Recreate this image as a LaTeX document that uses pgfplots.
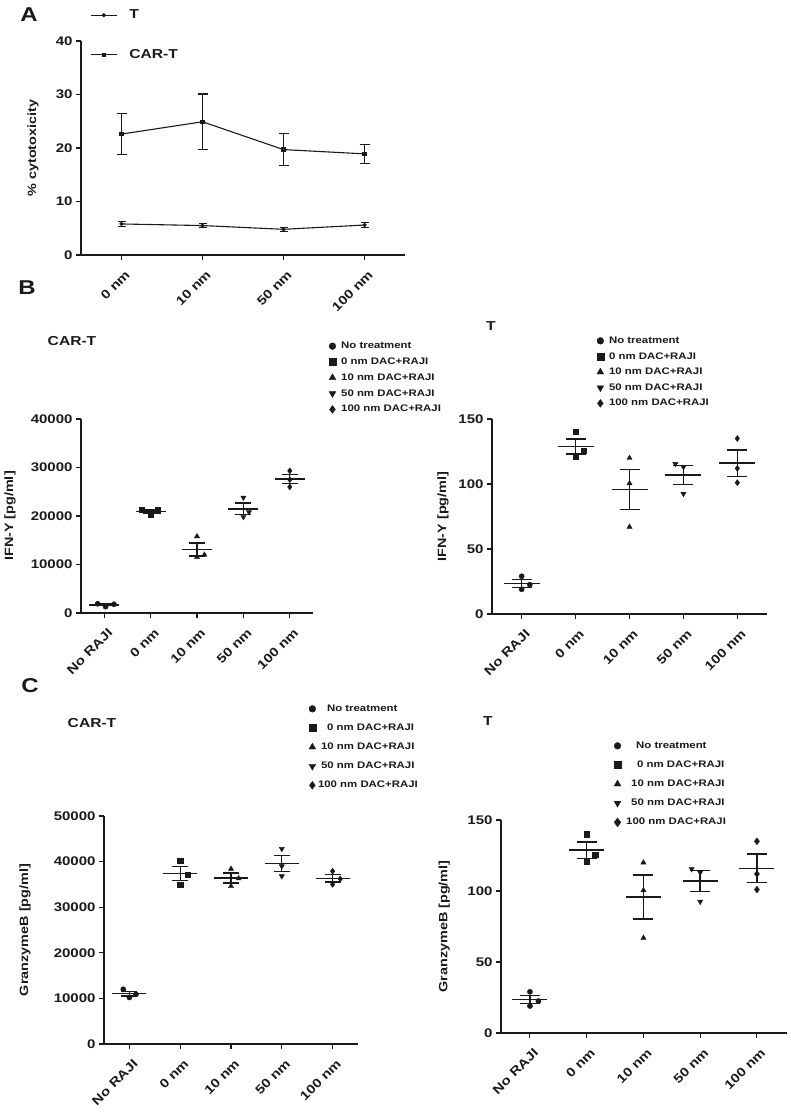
\documentclass[border=0pt]{standalone}
\usepackage{fontspec}
\setmainfont{Liberation Sans}[FakeStretch=1.2]
\usepackage{pgfplots}
\pgfplotsset{compat=1.18}
\definecolor{ink}{HTML}{1A1A1A}
\newcommand{\tickfont}{\fontsize{12.5}{14}\selectfont\bfseries}
\newcommand{\labfont}{\fontsize{12}{14}\selectfont\bfseries}
\newcommand{\legfont}{\fontsize{9.5}{11}\selectfont\bfseries}
\newcommand{\titfont}{\fontsize{13}{15}\selectfont\bfseries}
\newcommand{\letfont}{\fontsize{20}{22}\selectfont\bfseries}
\pgfplotsset{
  prism/.style={
    scale only axis, clip=false,
    axis lines=left,
    axis line style={-, line width=1.1pt, ink},
    tick style={line width=1.1pt, ink},
    tick align=outside, major tick length=5pt,
    xticklabel style={xshift=3pt, yshift=-8pt, rotate=45, anchor=north east, inner sep=1pt, font=\tickfont, text=ink},
    yticklabel style={font=\tickfont, text=ink},
    ylabel style={font=\labfont, anchor=center, text=ink},
    scaled y ticks=false,
    /pgf/number format/1000 sep={},
    /pgf/number format/assume math mode=true,
    ymin=0,
  },
  scatleg/.style={
    legend style={draw=none, fill=none, anchor=north west, font=\legfont, text=ink,
      inner sep=0pt, nodes={inner sep=1.5pt}},
    legend cell align=left,
    legend image code/.code={\path (-4pt,0pt) (7pt,0pt); \draw[##1, every mark/.append style={scale=1.3}] plot coordinates {(0pt,0pt)};},
  },
  lineleg/.style={
    legend image code/.code={\path (0pt,0pt) (36pt,0pt); \draw[mark repeat=2, mark phase=2, ##1] plot coordinates {(0pt,0pt) (13pt,0pt) (26pt,0pt)};},
  },
  pts/.style={ink, only marks, mark size=2.6pt},
  msem/.style n args={3}{ink, only marks, mark=-, mark size=#1, mark options={line width=#3}, forget plot,
    error bars/.cd, y dir=both, y explicit, error bar style={line width=#3},
    error mark options={rotate=90, mark size=#2, line width=#3}},
}
\begin{document}
\begin{tikzpicture}
\path[use as bounding box] (0pt,0pt) rectangle (790pt,1115pt);

% Panel letters and titles
\node[font=\letfont, text=ink] at (29pt,1100pt) {A};
\node[font=\letfont, text=ink] at (27pt,827pt) {B};
\node[font=\letfont, text=ink] at (30pt,429pt) {C};
\node[font=\titfont, text=ink] at (72pt,774pt) {CAR-T};
\node[font=\titfont, text=ink] at (491pt,789pt) {T};
\node[font=\titfont, text=ink] at (92pt,392pt) {CAR-T};
\node[font=\titfont, text=ink] at (488pt,394pt) {T};

% ---------------- Panel A ----------------
\begin{axis}[prism, lineleg, at={(81pt,860pt)}, anchor=south west, width=324pt, height=214pt,
  xmin=-0.5, xmax=3.5, ymax=40, ytick={0,10,20,30,40},
  xtick={0,1,2,3}, xticklabels={0 nm,10 nm,50 nm,100 nm},
  ylabel={\% cytotoxicity}, ylabel style={at={(axis description cs:-0.148,0.5)}},
  legend style={draw=none, fill=none, at={(axis description cs:0.028,1.155)}, anchor=north west,
    font=\titfont, text=ink, row sep=25pt, inner sep=0pt, nodes={inner sep=2pt}},
  legend cell align=left,
]
\addplot[ink, line width=1.1pt, mark=*, mark size=1.5pt,
  error bars/.cd, y dir=both, y explicit, error bar style={line width=1.1pt},
  error mark options={rotate=90, mark size=4pt, line width=1.1pt}]
  coordinates {(0,5.8) +- (0,0.4) (1,5.5) +- (0,0.35) (2,4.8) +- (0,0.4) (3,5.6) +- (0,0.5)};
\addlegendentry{T}
\addplot[ink, line width=1.1pt, mark=square*, mark size=1.7pt,
  error bars/.cd, y dir=both, y explicit, error bar style={line width=1.1pt},
  error mark options={rotate=90, mark size=5pt, line width=1.1pt}]
  coordinates {(0,22.6) +- (0,3.8) (1,24.9) +- (0,5.2) (2,19.7) +- (0,3.0) (3,18.9) +- (0,1.8)};
\addlegendentry{CAR-T}
\end{axis}

% ---------------- Panel B left: CAR-T IFN ----------------
\begin{axis}[prism, scatleg, at={(81pt,502pt)}, anchor=south west, width=232pt, height=194pt,
  xmin=-0.5, xmax=4.5, ymax=40000, ytick={0,10000,20000,30000,40000},
  xtick={0,1,2,3,4}, xticklabels={No RAJI,0 nm,10 nm,50 nm,100 nm},
  ylabel={IFN-Y [pg/ml]}, ylabel style={at={(axis description cs:-0.306,0.5)}},
  legend style={at={(axis description cs:1.065,1.405)}, row sep=4.7pt},
]
\addplot[msem={15pt}{8pt}{1.3pt}]
  coordinates {(0,1667) +- (0,185) (1,20933) +- (0,318) (2,13100) +- (0,1358) (3,21467) +- (0,1202) (4,27600) +- (0,954)};
\addplot[pts, mark=*] coordinates {(-0.14,1900) (0.03,1300) (0.21,1800)};
\addlegendentry{No treatment}
\addplot[pts, mark=square*] coordinates {(0.81,21300) (1,20300) (1.16,21200)};
\addlegendentry{0 nm DAC+RAJI}
\addplot[pts, mark=triangle*, mark size=3pt] coordinates {(2,15800) (2,11500) (2.16,12000)};
\addlegendentry{10 nm DAC+RAJI}
\addplot[pts, mark=triangle*, mark size=3pt, mark options={rotate=180}] coordinates {(3,23800) (3,19800) (3.12,20800)};
\addlegendentry{50 nm DAC+RAJI}
\addplot[pts, mark=diamond*, mark size=3pt] coordinates {(4,29300) (4,26000) (4,27500)};
\addlegendentry{100 nm DAC+RAJI}
\end{axis}

% ---------------- Panel B right: T IFN ----------------
\begin{axis}[prism, scatleg, at={(492pt,501pt)}, anchor=south west, width=275pt, height=195pt,
  xmin=-0.55, xmax=4.55, ymax=150, ytick={0,50,100,150},
  xtick={0,1,2,3,4}, xticklabels={No RAJI,0 nm,10 nm,50 nm,100 nm},
  ylabel={IFN-Y [pg/ml]}, ylabel style={at={(axis description cs:-0.178,0.5)}},
  legend style={at={(axis description cs:0.378,1.43)}, row sep=4.5pt},
]
\addplot[msem={18pt}{10pt}{1.4pt}]
  coordinates {(0,23.5) +- (0,2.93) (1,128.8) +- (0,5.73) (2,95.8) +- (0,15.48) (3,107) +- (0,7.29) (4,116) +- (0,10.02)};
\addplot[pts, mark=*] coordinates {(0,29) (0,19) (0.15,22.5)};
\addlegendentry{No treatment}
\addplot[pts, mark=square*] coordinates {(1,140) (1,121) (1.15,125.5)};
\addlegendentry{0 nm DAC+RAJI}
\addplot[pts, mark=triangle*, mark size=3pt] coordinates {(2,120) (2,100.5) (2,67)};
\addlegendentry{10 nm DAC+RAJI}
\addplot[pts, mark=triangle*, mark size=3pt, mark options={rotate=180}] coordinates {(2.85,115.5) (3,113) (3,92.5)};
\addlegendentry{50 nm DAC+RAJI}
\addplot[pts, mark=diamond*, mark size=3pt] coordinates {(4,135) (4,112) (4,101)};
\addlegendentry{100 nm DAC+RAJI}
\end{axis}

% ---------------- Panel C left: CAR-T Granzyme ----------------
\begin{axis}[prism, scatleg, at={(104pt,71pt)}, anchor=south west, width=254pt, height=228pt,
  xmin=-0.5, xmax=4.5, ymax=50000, ytick={0,10000,20000,30000,40000,50000},
  xtick={0,1,2,3,4}, xticklabels={No RAJI,0 nm,10 nm,50 nm,100 nm},
  ylabel={GranzymeB [pg/ml]}, ylabel style={at={(axis description cs:-0.311,0.5)}},
  legend style={at={(axis description cs:0.803,1.495)}, row sep=8pt},
]
\addplot[msem={17pt}{8pt}{1.3pt}]
  coordinates {(0,11033) +- (0,524) (1,37433) +- (0,1510) (2,36433) +- (0,1099) (3,39533) +- (0,1752) (4,36367) +- (0,842)};
\addplot[pts, mark=*] coordinates {(-0.12,12000) (0,10200) (0.13,10900)};
\addlegendentry{\hspace{6pt}No treatment}
\addplot[pts, mark=square*] coordinates {(1,40200) (1,35000) (1.15,37100)};
\addlegendentry{\hspace{6pt}0 nm DAC+RAJI}
\addplot[pts, mark=triangle*, mark size=3pt] coordinates {(2,38400) (2,34600) (2.15,36300)};
\addlegendentry{10 nm DAC+RAJI}
\addplot[pts, mark=triangle*, mark size=3pt, mark options={rotate=180}] coordinates {(3,42800) (3,36800) (3,39000)};
\addlegendentry{50 nm DAC+RAJI}
\addplot[pts, mark=diamond*, mark size=3pt] coordinates {(4,37900) (4,35000) (4.15,36200)};
\addlegendentry{\hspace{-3pt}100 nm DAC+RAJI}
\end{axis}

% ---------------- Panel C right: T Granzyme ----------------
\begin{axis}[prism, scatleg, at={(501pt,82pt)}, anchor=south west, width=286pt, height=213pt,
  xmin=-0.51, xmax=4.53, ymax=150, ytick={0,50,100,150},
  xtick={0,1,2,3,4}, xticklabels={No RAJI,0 nm,10 nm,50 nm,100 nm},
  ylabel={GranzymeB [pg/ml]}, ylabel style={at={(axis description cs:-0.198,0.5)}},
  legend style={at={(axis description cs:0.392,1.375)}, row sep=8pt},
]
\addplot[msem={17.5pt}{10pt}{1.4pt}]
  coordinates {(0,23.5) +- (0,2.93) (1,128.8) +- (0,5.73) (2,95.8) +- (0,15.48) (3,107) +- (0,7.29) (4,116) +- (0,10.02)};
\addplot[pts, mark=*] coordinates {(0,29) (0,19) (0.15,22.5)};
\addlegendentry{\hspace{10pt}No treatment}
\addplot[pts, mark=square*] coordinates {(1,140) (1,121) (1.15,125.5)};
\addlegendentry{\hspace{11pt}0 nm DAC+RAJI}
\addplot[pts, mark=triangle*, mark size=3pt] coordinates {(2,120) (2,100.5) (2,67)};
\addlegendentry{\hspace{5pt}10 nm DAC+RAJI}
\addplot[pts, mark=triangle*, mark size=3pt, mark options={rotate=180}] coordinates {(2.85,115.5) (3,113) (3,92.5)};
\addlegendentry{\hspace{5pt}50 nm DAC+RAJI}
\addplot[pts, mark=diamond*, mark size=3.4pt] coordinates {(4,135) (4,112) (4,101)};
\addlegendentry{100 nm DAC+RAJI}
\end{axis}
\end{tikzpicture}
\end{document}
